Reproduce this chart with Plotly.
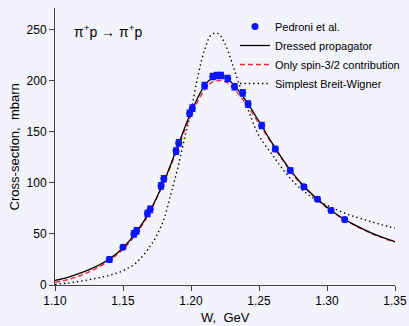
import plotly.graph_objects as go

# Experimental data (Pedroni et al.)
data_w = [1.140, 1.150, 1.158, 1.160, 1.168, 1.170, 1.178, 1.180, 1.189, 1.191,
          1.199, 1.201, 1.210, 1.216, 1.219, 1.222, 1.227, 1.232, 1.238, 1.242,
          1.252, 1.262, 1.273, 1.283, 1.293, 1.303, 1.313]
data_sigma = [25, 37, 50, 53, 70, 74, 97, 104, 131, 139,
              168, 173, 195, 204, 205, 205, 202, 194, 188, 177,
              156, 133, 112, 96, 84, 73, 64]
data_err = [2.5, 2, 3, 3, 3, 3, 3, 3, 3, 3,
            3, 3, 3, 3, 3, 3, 3, 3, 3, 3,
            3, 2.5, 2.5, 2, 2, 2, 2]

# Curves
curve_w = [1.10, 1.11, 1.12, 1.13, 1.14, 1.15, 1.16, 1.17, 1.18, 1.19,
           1.20, 1.21, 1.215, 1.22, 1.225, 1.23, 1.24, 1.25, 1.26, 1.27,
           1.28, 1.29, 1.30, 1.31, 1.32, 1.33, 1.34, 1.35]
dressed = [4.5, 7.8, 12.3, 18, 25.5, 36.5, 52, 73, 101, 135,
           169, 195, 202, 205, 203.5, 198, 181, 160, 138, 118,
           101, 87.5, 76, 66.5, 59, 52.5, 47, 42.5]
spin32 = [2.5, 5.5, 10, 16, 24, 35, 50.5, 72, 100, 133,
          166, 191, 198, 200, 199, 194, 178, 158, 137, 117,
          100, 87, 75.5, 66, 58.5, 52, 46.5, 42]

bw_w = [1.10, 1.11, 1.12, 1.13, 1.14, 1.15, 1.16, 1.17, 1.175, 1.18,
        1.185, 1.19, 1.195, 1.20, 1.205, 1.21, 1.215, 1.22, 1.225, 1.23,
        1.235, 1.24, 1.245, 1.25, 1.26, 1.27, 1.28, 1.29, 1.30, 1.31,
        1.32, 1.33, 1.34, 1.35]
bw = [0.5, 2, 4, 6.5, 9.5, 14, 22, 38, 49, 64,
      88, 113, 142, 170, 204, 230, 245, 246, 236, 218,
      198, 179, 161, 146, 127, 109, 95, 85, 78, 72,
      67, 63, 59, 55.5]

x_ticks = [1.10, 1.15, 1.20, 1.25, 1.30, 1.35]
x_ticktext = ["1.10", "1.15", "1.20", "1.25", "1.30", "1.35"]
y_ticks = [0, 50, 100, 150, 200, 250]

bg = "#F3F3FC"
font = "Liberation Sans, Arial, sans-serif"

fig = go.Figure()
fig.add_trace(go.Scatter(
    x=bw_w, y=bw, mode="lines", name="Simplest Breit-Wigner",
    line=dict(color="black", width=1.4, dash="1.4px,3px", shape="spline"),
    legendrank=4))
fig.add_trace(go.Scatter(
    x=curve_w, y=spin32, mode="lines", name="Only spin-3/2 contribution",
    line=dict(color="#FF2020", width=1.3, dash="5px,3px", shape="spline"),
    legendrank=3))
fig.add_trace(go.Scatter(
    x=curve_w, y=dressed, mode="lines", name="Dressed propagator",
    line=dict(color="black", width=1.3, shape="spline"),
    legendrank=2))
fig.add_trace(go.Scatter(
    x=data_w, y=data_sigma, mode="markers", name="Pedroni et al.",
    marker=dict(color="#0A14FF", size=7),
    error_y=dict(type="data", array=data_err, color="#0A14FF", thickness=1.5, width=3),
    legendrank=1))

fig.update_layout(
    width=409, height=326,
    margin=dict(l=55, r=14, t=8, b=41, pad=0, autoexpand=False),
    paper_bgcolor=bg, plot_bgcolor=bg,
    font=dict(family=font, size=12, color="black"),
    showlegend=True,
    legend=dict(x=235 / 409, y=1 - 12 / 326, xref="container", yref="container",
                xanchor="left", yanchor="top",
                bgcolor="rgba(0,0,0,0)", font=dict(size=11, family=font),
                itemwidth=30, tracegroupgap=0),
    xaxis=dict(range=[1.10, 1.35], tickvals=x_ticks, ticktext=x_ticktext,
               showgrid=False, zeroline=False, showline=True, linecolor="#444",
               linewidth=1, ticks="outside", ticklen=5, tickcolor="#444"),
    yaxis=dict(range=[0, 271], tickvals=y_ticks,
               showgrid=False, zeroline=False, showline=True, linecolor="#444",
               linewidth=1, ticks="outside", ticklen=5, tickcolor="#444"),
    annotations=[
        dict(x=0.05, y=0.917, xref="paper", yref="paper", xanchor="left", yanchor="middle",
             text="π<sup>+</sup>p → π<sup>+</sup>p", showarrow=False,
             font=dict(size=14, family=font)),
        dict(x=0.5, y=-0.118, xref="paper", yref="paper", xanchor="center", yanchor="middle",
             text="W,  GeV", showarrow=False, font=dict(size=13, family=font)),
        dict(x=-0.118, y=0.5, xref="paper", yref="paper", xanchor="center", yanchor="middle",
             text="Cross-section,  mbarn", textangle=-90, showarrow=False,
             font=dict(size=13, family=font)),
    ],
)

fig.write_html(
    "out.html",
    config={"displayModeBar": False},
    post_script=(
        "document.body.style.margin='0';"
        "document.body.style.background='#F3F3FC';"
        "document.documentElement.style.overflow='hidden';"
    ),
)
